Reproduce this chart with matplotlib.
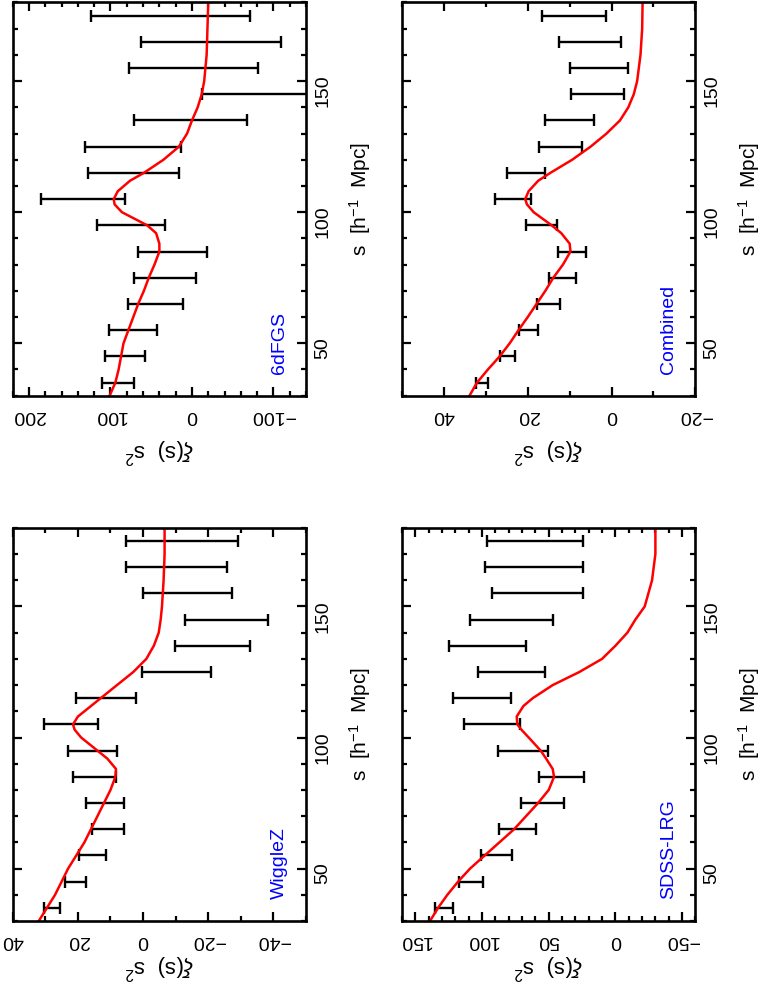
import numpy as np
import matplotlib.pyplot as plt
from matplotlib.ticker import MultipleLocator

plt.rcParams['font.family'] = ['Liberation Sans', 'DejaVu Sans']
plt.rcParams['mathtext.fontset'] = 'custom'
plt.rcParams['mathtext.rm'] = 'Liberation Sans'
plt.rcParams['mathtext.it'] = 'Liberation Sans:italic'

# separation bins of the measurements (h^-1 Mpc)
s_bins = [35, 45, 55, 65, 75, 85, 95, 105, 115, 125, 135, 145, 155, 165, 175]

s_model = [30, 35, 40, 45, 50, 55, 60, 65, 70, 75, 80, 85, 88, 92, 95, 100,
           103, 105, 108, 112, 115, 120, 125, 130, 135, 140, 145, 150, 160, 170, 180]

# 6dFGS: error bar ends and model
sixdf_hi = [111, 107, 102, 78, 71, 66, 117, 185, 128, 131, 71, -12, 77, 63, 124]
sixdf_lo = [71, 58, 43, 11, -5, -18, 33, 82, 16, 14, -67, -170, -81, -109, -71]
sixdf_model = [101, 94, 90, 87, 84, 78, 72, 66, 59, 53, 46, 40, 40, 44, 55, 86,
               95, 96, 91, 76, 59, 35, 16, 6, 0, -7, -12, -15, -18, -19, -20]

# WiggleZ
wigglez_hi = [30.4, 24.1, 19.6, 15.7, 17.4, 21.5, 23.0, 30.4, 20.7, 0.2, -9.8, -13.0, 0.0, 5.1, 5.2]
wigglez_lo = [25.6, 17.6, 11.3, 5.9, 5.9, 8.4, 8.0, 13.8, 2.1, -20.7, -32.9, -38.2, -27.3, -25.7, -29.1]
wigglez_model = [32, 29.5, 27, 25, 23, 20.5, 18, 16, 14, 12, 10, 8.5, 8.3, 11, 14, 19,
                 21, 21.5, 20, 16, 13, 8, 3, -1, -3.3, -4.8, -5.4, -5.8, -6.3, -6.6, -6.6]

# Combined
comb_hi = [32.3, 26.6, 22.0, 17.7, 15.0, 12.8, 20.5, 27.7, 24.9, 17.4, 15.8, 9.6, 10.0, 12.6, 16.7]
comb_lo = [29.6, 23.0, 17.6, 12.2, 8.6, 6.1, 13.0, 19.3, 15.8, 7.0, 4.2, -2.9, -3.9, -2.2, 1.3]
comb_model = [33.9, 32.1, 29.5, 26.7, 24.3, 22.2, 20, 17.9, 15.8, 13.9, 11.6, 9.8, 10, 12, 14.3, 18.6,
              20.2, 20.6, 19.8, 17.5, 14.6, 9.4, 5, 1.2, -2, -4, -5.3, -6.1, -6.9, -7.3, -7.4]

# SDSS-LRG
lrg_hi = [135.5, 117.5, 100.5, 87, 70.5, 57.5, 88, 113.8, 122, 103.3, 125, 109, 92.5, 97.5, 96.3]
lrg_lo = [121.8, 99.5, 77.5, 59.5, 38.3, 23.8, 50.8, 71.8, 78, 52.5, 67, 46.5, 24, 24.3, 24.3]
lrg_model = [139, 133, 126, 118, 109, 98, 87, 76, 67, 58, 50, 46, 47, 52, 56, 65,
             70.5, 73.5, 74, 69, 62, 47, 27, 10, 0, -9, -15, -22, -27.5, -30, -30]

fig = plt.figure(figsize=(7.64, 9.86), dpi=100)


def panel(rect, lo, hi, model, xi_lim, major, minor, name, xpad):
    ax = fig.add_axes(rect)
    lo = np.array(lo)
    hi = np.array(hi)
    ax.errorbar((lo + hi) / 2, s_bins, xerr=(hi - lo) / 2, fmt='none', ecolor='black',
                elinewidth=1.7, capsize=4.5, capthick=1.7)
    ax.plot(model, s_model, color='red', lw=1.8)
    ax.set_xlim(xi_lim)
    ax.set_ylim(30, 180)

    ax.xaxis.set_major_locator(MultipleLocator(major))
    ax.xaxis.set_minor_locator(MultipleLocator(minor))
    ax.yaxis.set_major_locator(MultipleLocator(50))
    ax.yaxis.set_minor_locator(MultipleLocator(10))
    ax.tick_params(which='both', direction='in', top=True, bottom=True, left=True, right=True,
                   width=1.6, labelsize=14)
    ax.tick_params(which='major', length=6.5)
    ax.tick_params(which='minor', length=3.6)
    ax.tick_params(axis='x', labelrotation=180, pad=8)
    ax.tick_params(axis='y', labelleft=False, labelright=True, labelrotation=90, pad=6)
    for sp in ax.spines.values():
        sp.set_linewidth(1.9)

    ax.set_xlabel(r'$\xi$(s)  s$^2$', fontsize=16, rotation=180, labelpad=xpad)
    ax.yaxis.set_label_position('right')
    ax.set_ylabel(r's  [h$^{-1}$  Mpc]', fontsize=15, rotation=90, labelpad=11)

    ax.text(0.91, 0.055, name, transform=ax.transAxes, rotation=90, color='blue',
            fontsize=14, ha='center', va='bottom')
    return ax


left, right = 0.0166, 0.5262
w = 0.384
h = 0.3988
top_b, bot_b = 0.5987, 0.0659

panel([left, top_b, w, h], sixdf_lo, sixdf_hi, sixdf_model, (220, -140), 100, 20, '6dFGS', 8)
panel([right, top_b, w, h], comb_lo, comb_hi, comb_model, (50, -20), 20, 10, 'Combined', 8)
panel([left, bot_b, w, h], wigglez_lo, wigglez_hi, wigglez_model, (40, -50), 20, 10, 'WiggleZ', 1)
panel([right, bot_b, w, h], lrg_lo, lrg_hi, lrg_model, (160, -60), 50, 10, 'SDSS-LRG', 1)

fig.savefig('out.png', dpi=100)
